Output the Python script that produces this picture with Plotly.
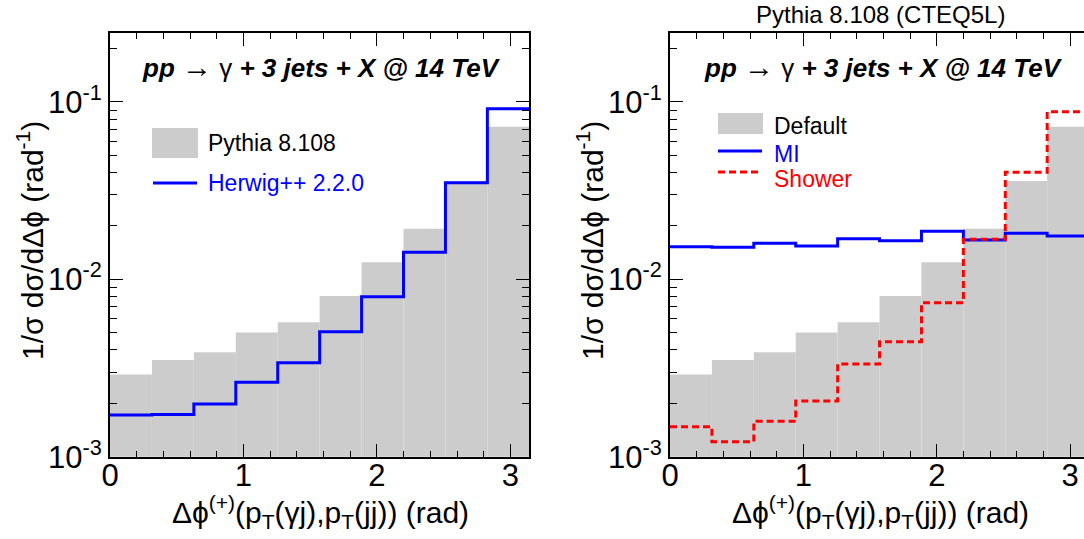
import numpy as np
import plotly.graph_objects as go

# ---------------- data ----------------
n_bins = 10
x_max = np.pi  # Delta phi range (rad)

pythia_default = [0.00291, 0.00351, 0.00388, 0.00502, 0.00572,
                  0.00805, 0.01247, 0.0193, 0.0358, 0.0724]
herwig = [0.00172, 0.00173, 0.00198, 0.00263, 0.00339,
          0.00506, 0.00798, 0.01419, 0.0350, 0.0916]
mi = [0.01527, 0.01515, 0.01596, 0.0154, 0.01694,
      0.0165, 0.01865, 0.01665, 0.01817, 0.01755]
shower = [0.001476, 0.001215, 0.001583, 0.00206, 0.00333,
          0.00445, 0.00738, 0.0168, 0.0401, 0.0881]

x_tickvals = [0, 1, 2, 3]
y_tickvals = [1e-3, 1e-2, 1e-1]
y_ticktext = ["10<sup>-3</sup>", "10<sup>-2</sup>", "10<sup>-1</sup>"]

# ---------------- derived ----------------
edges = np.linspace(0, x_max, n_bins + 1)
centers = (edges[:-1] + edges[1:]) / 2
bw = edges[1] - edges[0]

W, H = 1084, 539
FONT = "Liberation Sans, Arial, Helvetica, sans-serif"
GRAY = "#cccccc"
BLUE = "#0000ff"
RED = "#ff0000"


def px(x):
    return x / W


def py(y):
    return 1 - y / H


def steps(vals):
    return list(vals) + [vals[-1]]


fig = go.Figure()

# left panel
fig.add_trace(go.Bar(x=centers, y=pythia_default, width=bw,
                     marker=dict(color=GRAY, line=dict(width=0)),
                     xaxis="x", yaxis="y", showlegend=False))
fig.add_trace(go.Scatter(x=edges, y=steps(herwig), mode="lines",
                         line=dict(color=BLUE, width=3, shape="hv"),
                         xaxis="x", yaxis="y", showlegend=False))
# right panel
fig.add_trace(go.Bar(x=centers, y=pythia_default, width=bw,
                     marker=dict(color=GRAY, line=dict(width=0)),
                     xaxis="x2", yaxis="y2", showlegend=False))
fig.add_trace(go.Scatter(x=edges, y=steps(mi), mode="lines",
                         line=dict(color=BLUE, width=3, shape="hv"),
                         xaxis="x2", yaxis="y2", showlegend=False))
fig.add_trace(go.Scatter(x=edges, y=steps(shower), mode="lines",
                         line=dict(color=RED, width=3, shape="hv", dash="7px,4px"),
                         xaxis="x2", yaxis="y2", showlegend=False))

minor_y = [m * 10.0 ** k for k in (-3, -2, -1) for m in range(2, 10) if m * 10.0 ** k < 0.245]

common_x = dict(ticks="inside", ticklen=13, tickwidth=1, tickcolor="black",
                tickvals=x_tickvals, showline=True, linecolor="black", linewidth=2,
                showgrid=False, zeroline=False, automargin=False,
                ticklabelstandoff=-10,
                tickfont=dict(family=FONT, size=31, color="black"),
                minor=dict(ticks="inside", ticklen=6, tickwidth=1, tickcolor="black",
                           tick0=0, dtick=0.2, showgrid=False))
common_y = dict(type="log", range=[-3, np.log10(0.2455)],
                ticks="inside", ticklen=13, tickwidth=1, tickcolor="black",
                tickvals=y_tickvals, ticktext=y_ticktext,
                showline=True, linecolor="black", linewidth=2,
                showgrid=False, zeroline=False, automargin=False,
                tickfont=dict(family=FONT, size=31, color="black"),
                minor=dict(ticks="inside", ticklen=7, tickwidth=1, tickcolor="black",
                           tickvals=minor_y, showgrid=False),
                domain=[py(456.7), py(32.7)])

fig.update_layout(
    width=W, height=H,
    margin=dict(l=0, r=0, t=0, b=0),
    paper_bgcolor="white", plot_bgcolor="white",
    barmode="overlay", showlegend=False,
    font=dict(family=FONT, color="black"),
    xaxis=dict(common_x, domain=[px(110), px(529.3)], range=[0, x_max],
               anchor="y", mirror="allticks"),
    yaxis=dict(common_y, anchor="x", mirror="allticks"),
    xaxis2=dict(common_x, domain=[px(670), 1.0], range=[0, (W - 670) / 133.4],
                anchor="y2", mirror="allticks"),
    yaxis2=dict(common_y, anchor="x2", mirror=False),
)

ann = []
title_txt = ("<b><i>pp</i></b> <span style='font-size:30px'>\u2192</span> \u03b3 "
             "<b><i>+ 3 jets + X @ 14 TeV</i></b>")
ytitle = "1/\u03c3 d\u03c3/d\u0394\u03d5 (rad<sup>-1</sup>)"
xtitle = "\u0394\u03d5<sup>(+)</sup>(p<sub>T</sub>(\u03b3j),p<sub>T</sub>(jj)) (rad)"

for cx, tx in ((322, 30), (883, 590)):
    ann.append(dict(x=px(cx), y=py(66), xref="paper", yref="paper", text=title_txt,
                    showarrow=False, xanchor="center", yanchor="middle",
                    font=dict(family=FONT, size=26, color="black")))
    ann.append(dict(x=px(tx), y=py(241), xref="paper", yref="paper", text=ytitle,
                    showarrow=False, textangle=-90, xanchor="center", yanchor="middle",
                    font=dict(family=FONT, size=30, color="black")))
for cx in (320, 880):
    ann.append(dict(x=px(cx), y=py(512), xref="paper", yref="paper", text=xtitle,
                    showarrow=False, xanchor="center", yanchor="middle",
                    font=dict(family=FONT, size=30, color="black")))

ann.append(dict(x=px(880), y=1.0, xref="paper", yref="paper",
                text="Pythia 8.108 (CTEQ5L)", showarrow=False,
                xanchor="center", yanchor="top", borderpad=0,
                font=dict(family=FONT, size=24, color="black")))

# legends (left)
shapes = []
shapes.append(dict(type="rect", xref="paper", yref="paper",
                   x0=px(152), x1=px(198), y0=py(158), y1=py(128),
                   fillcolor=GRAY, line=dict(width=0)))
shapes.append(dict(type="line", xref="paper", yref="paper",
                   x0=px(153), x1=px(197), y0=py(183), y1=py(183),
                   line=dict(color=BLUE, width=3)))
ann.append(dict(x=px(206), y=py(143), xref="paper", yref="paper", text="Pythia 8.108",
                showarrow=False, xanchor="left", yanchor="middle",
                font=dict(family=FONT, size=23, color="black")))
ann.append(dict(x=px(206), y=py(183), xref="paper", yref="paper", text="Herwig++ 2.2.0",
                showarrow=False, xanchor="left", yanchor="middle",
                font=dict(family=FONT, size=23, color=BLUE)))
# legends (right)
shapes.append(dict(type="rect", xref="paper", yref="paper",
                   x0=px(718), x1=px(763), y0=py(134), y1=py(113),
                   fillcolor=GRAY, line=dict(width=0)))
shapes.append(dict(type="line", xref="paper", yref="paper",
                   x0=px(718), x1=px(762), y0=py(151), y1=py(151),
                   line=dict(color=BLUE, width=3)))
shapes.append(dict(type="line", xref="paper", yref="paper",
                   x0=px(718), x1=px(762), y0=py(172), y1=py(172),
                   line=dict(color=RED, width=3, dash="7px,4px")))
for txt, yy, col in (("Default", 126, "black"), ("MI", 154, BLUE), ("Shower", 179, RED)):
    ann.append(dict(x=px(772), y=py(yy), xref="paper", yref="paper", text=txt,
                    showarrow=False, xanchor="left", yanchor="middle",
                    font=dict(family=FONT, size=23, color=col)))

fig.update_layout(annotations=ann, shapes=shapes)
fig.write_html("out.html", config={"displayModeBar": False},
               post_script="document.body.style.margin='0px';"
                           "document.body.style.overflow='hidden';")
